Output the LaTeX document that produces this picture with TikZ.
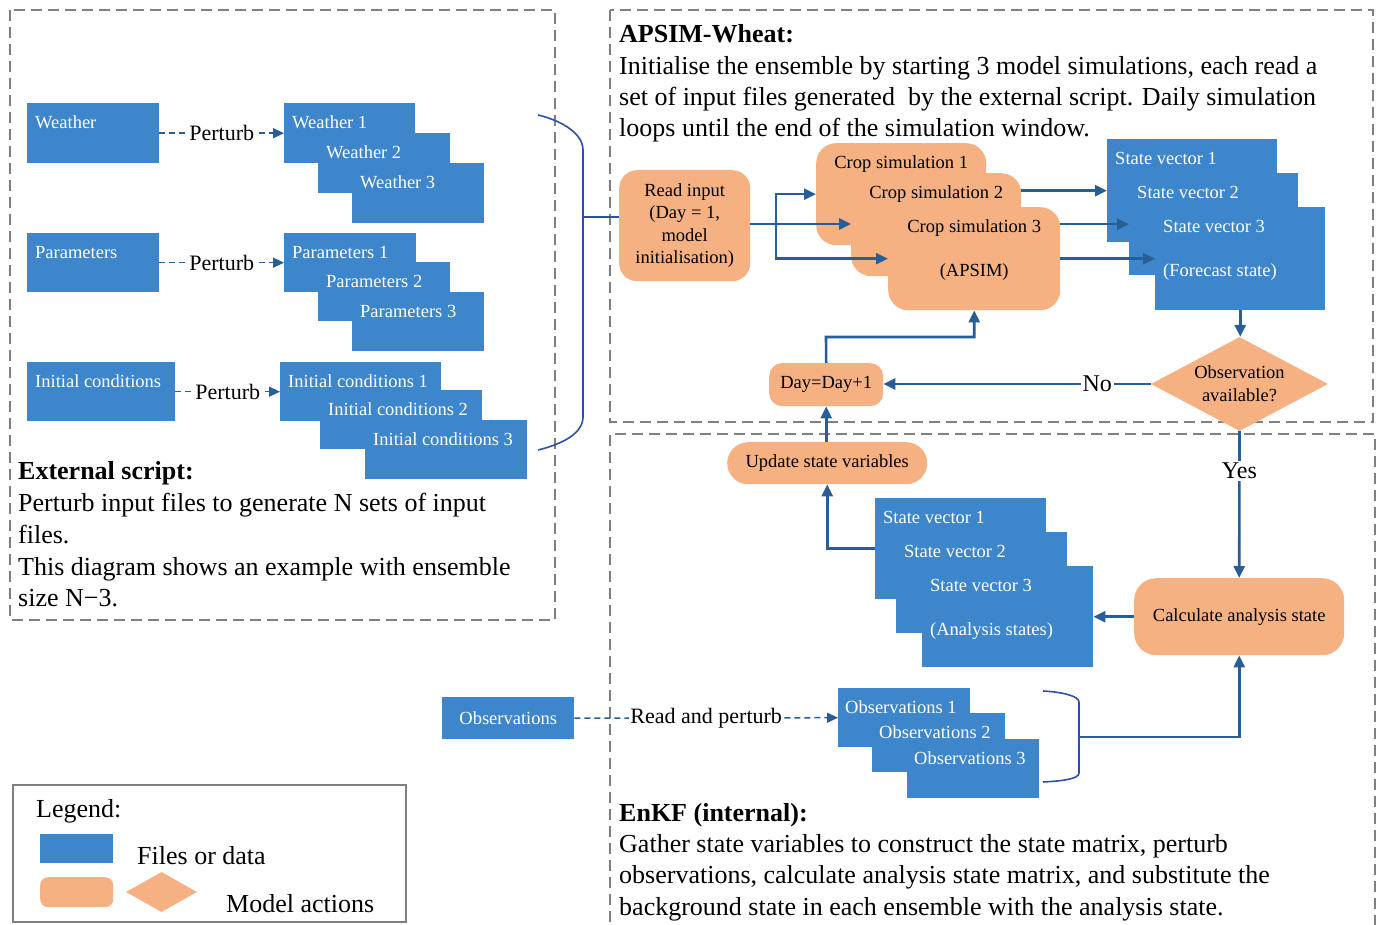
\documentclass[tikz,border=0pt]{standalone}
\usepackage{fontspec}
\setmainfont{Liberation Serif}
\usetikzlibrary{shapes.geometric,arrows.meta,calc}
\definecolor{fblue}{RGB}{62,134,203}
\definecolor{forange}{RGB}{246,177,131}
\definecolor{adark}{RGB}{40,94,152}
\definecolor{bcol}{RGB}{45,82,165}
\definecolor{dgray}{RGB}{128,128,128}
\begin{document}
\begin{tikzpicture}[x=1pt,y=-1pt,
  fbox/.style={fill=fblue, inner sep=0pt, anchor=north west, draw=none},
  obox/.style={fill=forange, inner sep=0pt, anchor=north west, draw=none, text=black,
     font=\fontsize{18.5}{22.5}\selectfont, align=center},
  bl/.style={font=\fontsize{18.5}{22}\selectfont, text=white, inner sep=0pt,
     anchor=north west, text height=12.5pt, text depth=4pt, xshift=8pt, yshift=-12.5pt},
  bl2/.style={bl, yshift=-44pt},
  cl/.style={font=\fontsize{18.5}{22}\selectfont, text=black, inner sep=0pt,
     anchor=north, text height=12.5pt, text depth=4pt, yshift=-12.5pt},
  cl2/.style={cl, yshift=-44pt},
  body/.style={font=\fontsize{26}{31}\selectfont, inner sep=0pt, anchor=base west},
  head/.style={body, font=\fontsize{26}{31}\selectfont\bfseries},
  frame/.style={draw=dgray, line width=1.6pt, dash pattern=on 11pt off 6pt},
  arr/.style={draw=adark, line width=2.6pt, -{Triangle[length=12pt,width=11pt]}},
  parr/.style={draw=adark, line width=1.5pt, dash pattern=on 6pt off 4pt,
     -{Triangle[length=11pt,width=10pt]}},
  plab/.style={fill=white, inner sep=1pt, text=black, font=\fontsize{22}{26}\selectfont},
  yn/.style={fill=white, inner sep=2pt, text=black, font=\fontsize{24}{28}\selectfont},
  brk/.style={draw=bcol, line width=1.6pt}
]
\useasboundingbox (0,0) rectangle (1381,925);
\fill[white] (0,0) rectangle (1381,925);

% frames
\draw[frame] (10,10) rectangle (555,620);
\draw[frame] (610,10) rectangle (1373,422);
\draw[frame] (1375,960) -- (1375,434) -- (610,434) -- (610,960);

% ---------- External script ----------
\node[fbox, minimum width=132pt, minimum height=60pt, label={[bl]north west:Weather}] (w) at (27,103) {};
\node[fbox, minimum width=131pt, minimum height=60pt, label={[bl]north west:Weather 1}] (w1) at (284,103) {};
\node[fbox, minimum width=132pt, minimum height=60pt, label={[bl]north west:Weather 2}] (w2) at (318,133) {};
\node[fbox, minimum width=132pt, minimum height=60pt, label={[bl]north west:Weather 3}] (w3) at (352,163) {};

\node[fbox, minimum width=132pt, minimum height=59pt, label={[bl]north west:Parameters}] (p) at (27,233) {};
\node[fbox, minimum width=132pt, minimum height=59pt, label={[bl]north west:Parameters 1}] (p1) at (284,233) {};
\node[fbox, minimum width=132pt, minimum height=59pt, label={[bl]north west:Parameters 2}] (p2) at (318,262) {};
\node[fbox, minimum width=132pt, minimum height=59pt, label={[bl]north west:Parameters 3}] (p3) at (352,292) {};

\node[fbox, minimum width=148pt, minimum height=59pt, label={[bl]north west:Initial conditions}] (ic) at (27,362) {};
\node[fbox, minimum width=161pt, minimum height=59pt, label={[bl]north west:Initial conditions 1}] (ic1) at (280,362) {};
\node[fbox, minimum width=162pt, minimum height=59pt, label={[bl]north west:Initial conditions 2}] (ic2) at (320,390) {};
\node[fbox, minimum width=162pt, minimum height=59pt, label={[bl]north west:Initial conditions 3}] (ic3) at (365,420) {};

\draw[parr] (w.east) -- node[plab] (pl1) {Perturb} (w1.west);
\draw[parr] (p.east) -- node[plab] (pl2) {Perturb} (p1.west);
\draw[parr] (ic.east) -- node[plab] (pl3) {Perturb} (ic1.west);

\node[head] (h1) at (18,479) {External script:};
\node[body] (t11) at (18,511) {Perturb input files to generate N sets of input};
\node[body] (t12) at (18,543) {files.};
\node[body] (t13) at (18,575) {This diagram shows an example with ensemble};
\node[body] (t14) at (18,606) {size N−3.};

% bracket to model
\draw[brk] (538,115) .. controls (563,121) and (583,134) .. (583,150) -- (583,417)
   .. controls (583,433) and (563,444) .. (538,450);
\coordinate (bk1) at (583,217);

% ---------- APSIM-Wheat ----------
\node[head] (h2) at (619,43) {APSIM-Wheat:};
\node[body] (t21) at (619,75) {Initialise the ensemble by starting 3 model simulations, each read a};
\node[body] (t22) at (619,106) {set of input files generated\ \ by the external script. Daily simulation};
\node[body] (t23) at (619,137) {loops until the end of the simulation window.};

\node[obox, minimum width=131pt, minimum height=111pt, rounded corners=18pt] (ri) at (619,170)
   {Read input\\(Day = 1,\\model\\initialisation)};
\draw[brk] (bk1) -- (bk1 -| ri.west);

\node[obox, minimum width=170pt, minimum height=102pt, rounded corners=20pt,
   label={[cl]north:Crop simulation 1}] (cs1) at (816,143) {};
\node[obox, minimum width=170pt, minimum height=103pt, rounded corners=20pt,
   label={[cl]north:Crop simulation 2}] (cs2) at (851,173) {};
\node[obox, minimum width=172pt, minimum height=103pt, rounded corners=20pt,
   label={[cl]north:Crop simulation 3}, label={[cl2]north:(APSIM)}] (cs3) at (888,207) {};

\node[fbox, minimum width=170pt, minimum height=103pt, label={[bl]north west:State vector 1}] (sv1) at (1107,139) {};
\node[fbox, minimum width=169pt, minimum height=102pt, label={[bl]north west:State vector 2}] (sv2) at (1129,173) {};
\node[fbox, minimum width=170pt, minimum height=103pt, label={[bl]north west:State vector 3},
   label={[bl2]north west:(Forecast state)}] (sv3) at (1155,207) {};

\coordinate (br) at (776,224);
\draw[arr] (ri.east |- br) -- (br -| cs2.west);
\draw[arr] (br) |- (cs1.west);
\draw[arr] (br) |- (cs3.west);

\draw[arr] (sv1.west -| cs2.east) -- (sv1.west);
\draw[arr] (sv2.west -| cs3.east) -- (sv2.west);
\draw[arr] (cs3.east |- sv3.west) -- (sv3.west);

\node[diamond, fill=forange, inner sep=0pt, minimum width=177pt, minimum height=94pt,
   label={[font=\fontsize{18.5}{23}\selectfont, align=center, text=black]center:Observation\\available?}]
   (dia) at (1239.5,384) {};
\draw[arr] (sv3.south) -- (sv3.south |- dia.north);

\node[obox, minimum width=114pt, minimum height=43pt, rounded corners=13pt] (day) at (769,363) {Day=Day+1};
\draw[arr] (dia.west) -- node[yn, pos=0.2] (no) {No} (dia.west -| day.east);
\coordinate (dl) at (826,337);
\draw[arr] (day.north) -- (dl) -| (cs3.south);

% ---------- EnKF ----------
\node[obox, minimum width=200pt, minimum height=42pt, rounded corners=21pt] (upd) at (727,442) {Update state variables};
\draw[arr] (upd.north -| day.south) -- (day.south);

\node[fbox, minimum width=171pt, minimum height=101pt, label={[bl]north west:State vector 1}] (esv1) at (875,498) {};
\node[fbox, minimum width=171pt, minimum height=101pt, label={[bl]north west:State vector 2}] (esv2) at (896,532) {};
\node[fbox, minimum width=171pt, minimum height=101pt, label={[bl]north west:State vector 3},
   label={[bl2]north west:(Analysis states)}] (esv3) at (922,566) {};
\draw[arr] (esv1.west) -| (upd.south);

\node[obox, minimum width=210pt, minimum height=77pt, rounded corners=22pt] (calc) at (1134,578) {Calculate analysis state};
\draw[arr] (dia.south) -- node[yn, pos=0.27] (yes) {Yes} (calc.north);
\draw[arr] (calc.west) -- (calc.west -| esv3.east);

\node[fbox, minimum width=132pt, minimum height=42pt, text=white, font=\fontsize{18.5}{22}\selectfont] (obs) at (442,697) {Observations};
\node[fbox, minimum width=132pt, minimum height=59pt, label={[bl, xshift=-1pt]north west:Observations 1}] (obs1) at (838,688) {};
\node[fbox, minimum width=133pt, minimum height=59pt, label={[bl, xshift=-1pt]north west:Observations 2}] (obs2) at (872,713) {};
\node[fbox, minimum width=132pt, minimum height=59pt, label={[bl, xshift=-1pt]north west:Observations 3}] (obs3) at (907,739) {};
\draw[parr] (obs.east) -- node[plab] (rp) {Read and perturb} (obs1.west);

\draw[brk] (1043,691) .. controls (1062,692) and (1079,696) .. (1079,702) -- (1079,773)
   .. controls (1079,779) and (1062,781) .. (1043,782);
\coordinate (ob) at (1079,737);
\draw[arr] (ob) -| (calc.south);

\node[head] (h3) at (619,821) {EnKF (internal):};
\node[body] (t31) at (619,852) {Gather state variables to construct the state matrix, perturb};
\node[body] (t32) at (619,883) {observations, calculate analysis state matrix, and substitute the};
\node[body] (t33) at (619,915) {background state in each ensemble with the analysis state.};

% ---------- Legend ----------
\draw[draw=dgray, line width=1.6pt] (13,785) rectangle (406,922);
\node[body] (lg) at (36,817) {Legend:};
\node[fbox, minimum width=73pt, minimum height=29pt] (lb) at (40,834) {};
\node[body] (lf) at (137,864) {Files or data};
\node[obox, minimum width=73pt, minimum height=30pt, rounded corners=8pt] (lo) at (40,877) {};
\node[diamond, fill=forange, inner sep=0pt, minimum width=71pt, minimum height=40pt] (ld) at (161.5,892) {};
\node[body] (lm) at (226,912) {Model actions};
\end{tikzpicture}
\end{document}
